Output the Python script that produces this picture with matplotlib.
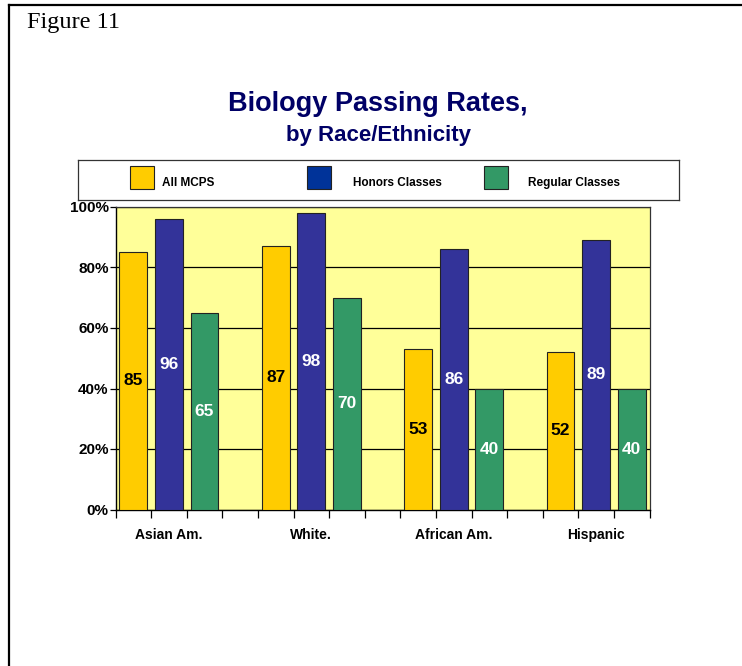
import matplotlib.pyplot as plt
from matplotlib.patches import Rectangle
import numpy as np

# Datos
grupos = ["Asian Am.", "White.", "African Am.", "Hispanic"]
series = ["All MCPS", "Honors Classes", "Regular Classes"]
todos_mcps = [85, 87, 53, 52]
honores = [96, 98, 86, 89]
regulares = [65, 70, 40, 40]
ticks_y = [0, 20, 40, 60, 80, 100]

colores_barras = ["#FFCC00", "#333399", "#339966"]
colores_leyenda = ["#FFCC00", "#003399", "#339966"]
colores_texto = ["black", "white", "white"]

FUENTE = "Liberation Sans"

W, H = 742, 666
fig = plt.figure(figsize=(W / 100, H / 100), dpi=100)

# Marco exterior de la pagina (izquierda y arriba)
fig.add_artist(plt.Line2D([9 / W, 9 / W], [0, 1 - 5 / H], color="black", lw=1.6))
fig.add_artist(plt.Line2D([9 / W, 1], [1 - 5 / H, 1 - 5 / H], color="black", lw=1.6))

fig.text(27 / W, 1 - 28 / H, "Figure 11", family="Liberation Serif",
         fontsize=17.5, va="baseline", ha="left")

fig.text(378 / W, 1 - 104 / H, "Biology Passing Rates,", ha="center", va="center",
         fontsize=19.5, fontweight="bold", color="#000066", family=FUENTE)
fig.text(379 / W, 1 - 135 / H, "by Race/Ethnicity", ha="center", va="center",
         fontsize=16, fontweight="bold", color="#000066", family=FUENTE)

# Grafica principal
x0, x1, y_top, y_bot = 115.5, 649.5, 207, 509.5
ax = fig.add_axes([x0 / W, 1 - y_bot / H, (x1 - x0) / W, (y_bot - y_top) / H])
ax.set_facecolor("#FFFF99")

valores = [todos_mcps, honores, regulares]
n_grupos = len(grupos)
n_casillas = n_grupos * 4 - 1
for i, vals in enumerate(valores):
    pos = np.arange(n_grupos) * 4 + i
    barras = ax.bar(pos, vals, width=0.78, color=colores_barras[i],
                    edgecolor="#222222", linewidth=0.8, zorder=3)
    ax.bar_label(barras, labels=[str(v) for v in vals], label_type="center",
                 color=colores_texto[i], fontsize=12.5, fontweight="bold",
                 family=FUENTE, zorder=4)

ax.set_xticks(np.arange(n_casillas + 1) - 0.5)
ax.set_xticklabels([])
ax.set_xlim(-0.5, n_casillas - 0.5)
ax.set_ylim(0, 100)
ax.set_yticks(ticks_y)
ax.set_yticklabels([f"{t}%" for t in ticks_y], fontsize=11, fontweight="bold",
                   family=FUENTE)
ax.yaxis.grid(True, color="black", linewidth=0.9, zorder=1)
ax.set_axisbelow(True)

ax.tick_params(axis="x", length=6, width=0.9, direction="out")
ax.tick_params(axis="y", length=4, width=0.9, direction="out", pad=1)
for i, g in enumerate(grupos):
    ax.text(i * 4 + 1, -0.085, g, transform=ax.get_xaxis_transform(),
            ha="center", va="center", fontsize=10, fontweight="bold",
            family=FUENTE)

for lado in ["left", "bottom"]:
    ax.spines[lado].set_color("black")
    ax.spines[lado].set_linewidth(1.0)
for lado in ["top", "right"]:
    ax.spines[lado].set_color("#333333")
    ax.spines[lado].set_linewidth(0.9)

# Leyenda en su propio recuadro
lx0, lx1, ly0, ly1 = 78, 679, 160, 200
axl = fig.add_axes([lx0 / W, 1 - ly1 / H, (lx1 - lx0) / W, (ly1 - ly0) / H])
axl.set_xlim(lx0, lx1)
axl.set_ylim(ly1, ly0)
axl.set_xticks([])
axl.set_yticks([])
for s in axl.spines.values():
    s.set_color("#333333")
    s.set_linewidth(0.9)

pos_cuadro = [130, 307, 484]
pos_texto = [162, 353, 528]
for i, nombre in enumerate(series):
    axl.add_patch(Rectangle((pos_cuadro[i], 166), 24, 23, facecolor=colores_leyenda[i],
                            edgecolor="#222222", linewidth=0.8))
    axl.text(pos_texto[i], 186, nombre, ha="left", va="baseline", fontsize=8.5,
             fontweight="bold", family=FUENTE)

fig.savefig("out.png", dpi=100)
